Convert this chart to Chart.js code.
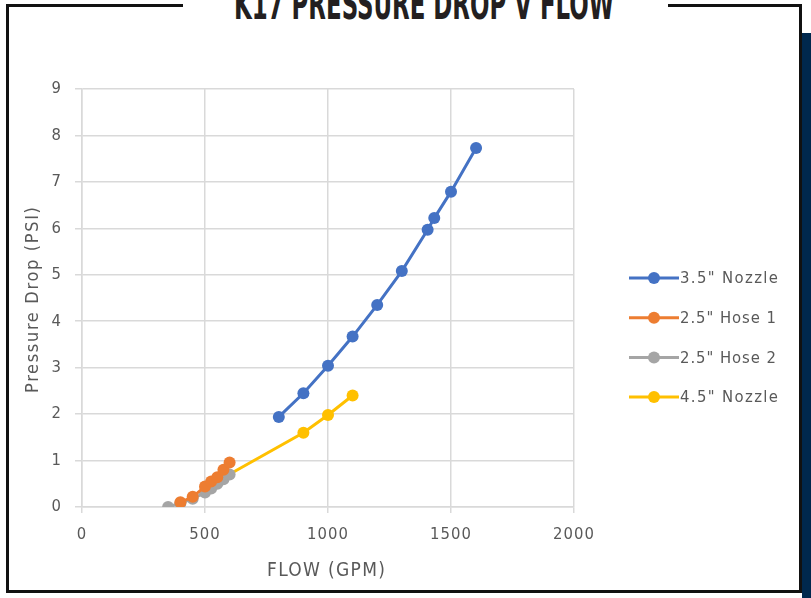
<!DOCTYPE html>
<html>
<head>
<meta charset="utf-8">
<script src="https://cdn.jsdelivr.net/npm/chart.js@4"></script>
<style>
  html, body { margin: 0; padding: 0; background: #fff; }
  body { width: 811px; height: 598px; position: relative; overflow: hidden; font-family: 'DejaVu Sans', sans-serif; }
  .frame { position: absolute; left: 6px; top: 4px; width: 790px; height: 586px; border: 3px solid #111; border-top: none; }
  .topline { position: absolute; top: 4px; height: 3px; background: #111; }
  .navy { position: absolute; left: 802px; top: 33px; width: 9px; height: 565px; background: #00284d; }
  .title { position: absolute; left: 234px; top: -12px; width: 380px; height: 34px; overflow: visible; }
  .title span { display: inline-block; font-family: 'Liberation Sans Narrow', 'DejaVu Sans Condensed', sans-serif; font-weight: bold; font-size: 42px; color: #231f20; transform-origin: 0 0; white-space: nowrap; line-height: 34px; }
  #chart { position: absolute; left: 0; top: 0; }
</style>
</head>
<body>
<div class="frame"></div>
<div class="topline" style="left:6px;width:177px"></div>
<div class="topline" style="left:668px;width:134px"></div>
<div class="navy"></div>
<div class="title"><span id="ttl">K17 PRESSURE DROP V FLOW</span></div>
<canvas id="chart" width="811" height="598"></canvas>
<script>
// series data (flow GPM, pressure drop PSI)
const nozzle35Flow = [800, 900, 1000, 1100, 1200, 1300, 1405, 1432, 1500, 1602];
const nozzle35Psi  = [1.94, 2.45, 3.04, 3.67, 4.35, 5.08, 5.97, 6.22, 6.79, 7.73];

const hose1Flow = [400, 450, 500, 525, 550, 575, 600];
const hose1Psi  = [0.1, 0.22, 0.44, 0.55, 0.64, 0.8, 0.96];

const hose2Flow = [350, 400, 450, 500, 525, 550, 575, 600];
const hose2Psi  = [0, 0.08, 0.18, 0.31, 0.4, 0.5, 0.6, 0.7];

const nozzle45Flow = [558, 900, 1000, 1100];
const nozzle45Psi  = [0.58, 1.6, 1.98, 2.4];

const seriesNames = ['3.5" Nozzle', '2.5" Hose 1', '2.5" Hose 2', '4.5" Nozzle'];
const seriesColors = ['#4472C4', '#ED7D31', '#A5A5A5', '#FFC000'];
const xTicks = [0, 500, 1000, 1500, 2000];
const yTicks = [0, 1, 2, 3, 4, 5, 6, 7, 8, 9];
const xTitle = 'FLOW (GPM)';
const yTitle = 'Pressure Drop (PSI)';

// squeeze the title into its slot
const ttl = document.getElementById('ttl');
ttl.style.transform = 'scaleX(' + (380 / ttl.offsetWidth) + ')';

function pts(xs, ys) {
  return xs.map((x, i) => ({ x: x, y: ys[i] }));
}

const allSeries = [
  pts(nozzle35Flow, nozzle35Psi),
  pts(hose1Flow, hose1Psi),
  pts(hose2Flow, hose2Psi),
  pts(nozzle45Flow, nozzle45Psi)
];

const TEXT = '#595959';
const GRID = '#d9d9d9';
const FONT = 'DejaVu Sans Condensed';

// draw text left-aligned at x, spread out to take up 'width' pixels
function spreadText(ctx, text, x, y, width) {
  ctx.letterSpacing = '0px';
  const w = ctx.measureText(text).width;
  const sp = (width - w) / Math.max(1, text.length - 1);
  ctx.letterSpacing = sp.toFixed(2) + 'px';
  ctx.textAlign = 'left';
  ctx.fillText(text, x, y);
}

// Excel spaces its tick labels out a bit
const spacing = {
  id: 'spacing',
  beforeDraw(chart) { chart.ctx.save(); chart.ctx.letterSpacing = '1px'; },
  afterDraw(chart) { chart.ctx.restore(); }
};

// legend + axis titles drawn by hand, like Excel does
const excelExtras = {
  id: 'excelExtras',
  afterDraw(chart) {
    const ctx = chart.ctx;
    const area = chart.chartArea;
    ctx.save();
    ctx.textBaseline = 'middle';
    ctx.font = '16.5px "' + FONT + '"';
    chart.data.datasets.forEach((ds, i) => {
      const y = 278 + i * 39.7;
      ctx.strokeStyle = ds.borderColor;
      ctx.lineWidth = 3;
      ctx.beginPath();
      ctx.moveTo(629, y);
      ctx.lineTo(679, y);
      ctx.stroke();
      ctx.fillStyle = ds.backgroundColor;
      ctx.beginPath();
      ctx.arc(654, y, 6, 0, Math.PI * 2);
      ctx.fill();
      ctx.fillStyle = TEXT;
      spreadText(ctx, ds.label, 680, y + 1, i % 3 === 0 ? 98 : 96);
    });

    ctx.fillStyle = TEXT;
    ctx.font = '19px "' + FONT + '"';
    spreadText(ctx, xTitle, 267, 571, 118);

    ctx.font = '18px "' + FONT + '"';
    ctx.translate(33, 393);
    ctx.rotate(-Math.PI / 2);
    spreadText(ctx, yTitle, 0, 0, 186);
    ctx.restore();
  }
};

new Chart(document.getElementById('chart'), {
  type: 'scatter',
  data: {
    datasets: allSeries.map((d, i) => ({
      label: seriesNames[i],
      data: d,
      showLine: true,
      borderColor: seriesColors[i],
      backgroundColor: seriesColors[i],
      borderWidth: 3,
      pointRadius: 6,
      pointBorderWidth: 0,
      tension: 0
    }))
  },
  options: {
    responsive: false,
    animation: false,
    devicePixelRatio: 1,
    layout: { padding: { left: 0, top: 89, right: 237, bottom: 0 } },
    plugins: {
      legend: { display: false },
      tooltip: { enabled: false }
    },
    scales: {
      x: {
        type: 'linear',
        min: 0, max: 2000,
        afterBuildTicks: s => { s.ticks = xTicks.map(v => ({ value: v })); },
        afterFit: s => { s.height = 91; },
        grid: { color: GRID, lineWidth: 1.5, tickLength: 6, tickColor: GRID },
        border: { color: GRID, width: 1.5 },
        ticks: { color: TEXT, font: { family: FONT, size: 16.5 }, padding: 12, callback: v => String(v) }
      },
      y: {
        type: 'linear',
        min: 0, max: 9,
        afterBuildTicks: s => { s.ticks = yTicks.map(v => ({ value: v })); },
        afterFit: s => { s.width = 82; },
        grid: { color: GRID, lineWidth: 1.5, tickLength: 7, tickColor: GRID },
        border: { color: GRID, width: 1.5 },
        ticks: { color: TEXT, font: { family: FONT, size: 16.5 }, padding: 13 }
      }
    }
  },
  plugins: [spacing, excelExtras]
});
</script>
</body>
</html>
